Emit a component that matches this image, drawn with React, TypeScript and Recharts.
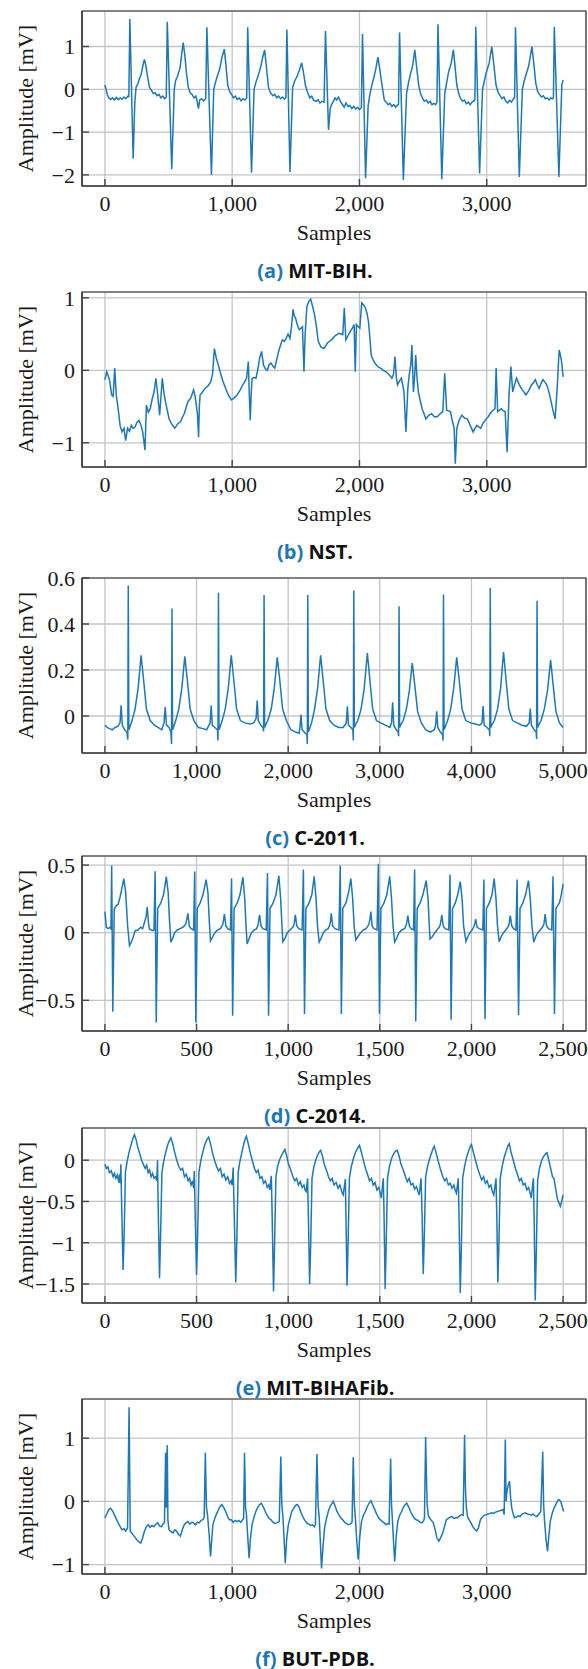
import { LineChart, Line, XAxis, YAxis, CartesianGrid, ReferenceArea } from 'recharts';

type Pt = [number, number];

// (a) MIT-BIH: [sample, mV]
const mitBih: Pt[] = [
  [0, 0.1], [8, 0.02], [18, -0.12], [30, -0.2], [45, -0.24], [60, -0.2], [75, -0.25], [90, -0.19], [105, -0.24], [120, -0.2], [135, -0.23], [150, -0.18], [165, -0.22], [180, -0.16], [188, -0.17],
  [196, 1.64], [222, -1.62], [235, -0.3], [245, 0.05], [258, 0.12], [268, 0.22], [285, 0.35], [298, 0.55], [310, 0.7], [322, 0.55], [335, 0.3], [350, 0.05], [365, -0.02], [380, -0.1], [395, -0.08], [410, -0.15], [425, -0.12], [440, -0.2], [455, -0.16], [470, -0.22], [482, -0.18],
  [490, 1.58], [525, -1.87], [545, 0.0], [555, 0.2], [570, 0.3], [590, 0.5], [605, 0.85], [615, 1.09], [628, 0.8], [640, 0.4], [655, 0.05], [670, -0.08], [685, -0.12], [700, -0.2], [715, -0.16], [725, -0.28], [735, -0.45], [745, -0.25], [760, -0.22], [775, -0.27], [792, -0.22],
  [801, 1.45], [837, -2.0], [855, 0.0], [868, 0.15], [882, 0.3], [900, 0.45], [920, 0.75], [938, 0.94], [950, 0.6], [965, 0.1], [980, -0.05], [995, -0.12], [1010, -0.2], [1025, -0.16], [1040, -0.24], [1055, -0.2], [1070, -0.27], [1085, -0.22], [1100, -0.25], [1114, -0.2],
  [1122, 1.45], [1152, -1.95], [1172, 0.0], [1185, 0.15], [1202, 0.3], [1222, 0.5], [1240, 0.75], [1255, 0.92], [1268, 0.55], [1285, 0.05], [1300, -0.08], [1320, -0.15], [1335, -0.12], [1350, -0.2], [1365, -0.16], [1380, -0.22], [1395, -0.18], [1410, -0.23], [1422, -0.19],
  [1430, 1.4], [1454, -1.93], [1475, 0.05], [1492, 0.2], [1510, 0.3], [1528, 0.45], [1546, 0.62], [1560, 0.4], [1575, 0.1], [1590, -0.05], [1610, -0.2], [1625, -0.16], [1640, -0.26], [1660, -0.28], [1675, -0.24], [1690, -0.32], [1705, -0.28], [1722, -0.3],
  [1733, 1.36], [1757, -0.95], [1770, -0.45], [1782, -0.35], [1795, -0.28], [1808, -0.2], [1820, -0.25], [1835, -0.18], [1850, -0.28], [1865, -0.35], [1880, -0.42], [1895, -0.32], [1910, -0.4], [1925, -0.38], [1940, -0.45], [1955, -0.4], [1970, -0.46], [1985, -0.42], [2000, -0.47], [2015, -0.43],
  [2024, 1.29], [2048, -2.08], [2068, -0.4], [2080, -0.15], [2090, 0.0], [2102, 0.15], [2115, 0.3], [2130, 0.5], [2145, 0.75], [2158, 0.5], [2172, 0.2], [2185, -0.05], [2195, -0.25], [2210, -0.3], [2225, -0.36], [2240, -0.33], [2255, -0.4], [2270, -0.36], [2285, -0.42], [2298, -0.37], [2307, -0.35],
  [2315, 1.33], [2345, -2.12], [2370, -0.1], [2385, 0.15], [2400, 0.35], [2418, 0.55], [2435, 0.92], [2450, 0.5], [2465, 0.1], [2480, -0.1], [2495, -0.2], [2510, -0.28], [2525, -0.25], [2540, -0.32], [2555, -0.28], [2570, -0.36], [2585, -0.33], [2598, -0.36], [2609, -0.3],
  [2617, 1.52], [2647, -2.1], [2670, -0.1], [2685, 0.15], [2700, 0.4], [2720, 0.6], [2738, 0.92], [2752, 0.5], [2765, 0.1], [2780, -0.1], [2795, -0.22], [2810, -0.28], [2825, -0.25], [2840, -0.34], [2855, -0.3], [2870, -0.36], [2885, -0.3], [2898, -0.27], [2907, -0.25],
  [2914, 1.46], [2944, -1.97], [2967, 0.0], [2982, 0.2], [2997, 0.4], [3018, 0.6], [3040, 1.0], [3055, 0.6], [3073, 0.1], [3090, -0.08], [3105, -0.15], [3120, -0.22], [3135, -0.18], [3150, -0.28], [3165, -0.32], [3180, -0.26], [3195, -0.3], [3210, -0.22], [3219, -0.2],
  [3226, 1.45], [3256, -2.05], [3280, 0.0], [3295, 0.2], [3310, 0.35], [3330, 0.55], [3355, 1.0], [3370, 0.6], [3385, 0.15], [3400, -0.05], [3415, -0.12], [3430, -0.18], [3445, -0.15], [3460, -0.22], [3475, -0.2], [3490, -0.25], [3505, -0.2], [3516, -0.22], [3524, -0.2],
  [3531, 1.46], [3567, -2.05], [3590, 0.1], [3600, 0.22],
];

// (b) NST
const nst: Pt[] = [
  [0, -0.13], [15, -0.02], [36, -0.13], [53, -0.34], [65, -0.36], [77, 0.03], [89, -0.34], [104, -0.53], [119, -0.76], [134, -0.85], [150, -0.8], [163, -0.97], [178, -0.8], [193, -0.84], [208, -0.76], [222, -0.8], [237, -0.78], [252, -0.72], [267, -0.69], [282, -0.75], [297, -0.85], [315, -1.1], [326, -0.48], [341, -0.58], [356, -0.53], [371, -0.4], [386, -0.3], [401, -0.11], [415, -0.34], [430, -0.62], [441, -0.35], [451, -0.11], [463, -0.3], [475, -0.43], [490, -0.55], [504, -0.67], [527, -0.75], [549, -0.8], [571, -0.74], [593, -0.71], [623, -0.6], [653, -0.43], [675, -0.38], [697, -0.27], [708, -0.35], [718, -0.48], [727, -0.6], [736, -0.92], [742, -0.5], [748, -0.34], [767, -0.3], [786, -0.25], [808, -0.22], [831, -0.16], [846, -0.05], [860, 0.3], [875, 0.17], [890, 0.08], [905, -0.02], [927, -0.15], [949, -0.25], [972, -0.35], [994, -0.41], [1016, -0.38], [1038, -0.34], [1060, -0.28], [1083, -0.2], [1098, -0.16], [1113, -0.11], [1127, 0.12], [1134, -0.3], [1142, -0.69], [1150, -0.3], [1157, -0.11], [1172, -0.1], [1187, -0.11], [1200, 0.0], [1216, 0.17], [1231, 0.26], [1246, 0.07], [1261, 0.02], [1276, 0.0], [1290, 0.08], [1305, 0.1], [1320, 0.06], [1335, 0.03], [1350, 0.15], [1365, 0.26], [1380, 0.35], [1394, 0.42], [1409, 0.4], [1424, 0.44], [1439, 0.5], [1454, 0.44], [1466, 0.6], [1478, 0.84], [1488, 0.75], [1498, 0.72], [1513, 0.62], [1528, 0.56], [1540, 0.58], [1552, 0.6], [1564, -0.02], [1573, 0.49], [1587, 0.88], [1602, 0.95], [1617, 0.98], [1632, 0.88], [1647, 0.77], [1662, 0.6], [1676, 0.4], [1698, 0.32], [1721, 0.3], [1750, 0.38], [1780, 0.42], [1810, 0.48], [1840, 0.51], [1855, 0.5], [1869, 0.49], [1881, 0.86], [1893, 0.42], [1911, 0.48], [1929, 0.54], [1944, 0.58], [1958, 0.63], [1967, -0.02], [1976, 0.63], [1990, 0.6], [2003, 0.58], [2018, 0.93], [2033, 0.9], [2047, 0.86], [2060, 0.78], [2071, 0.67], [2082, 0.45], [2092, 0.21], [2106, 0.15], [2121, 0.1], [2144, 0.05], [2166, 0.03], [2188, 0.0], [2210, -0.02], [2233, -0.06], [2255, -0.11], [2268, -0.05], [2279, 0.19], [2290, -0.1], [2299, -0.2], [2314, -0.15], [2329, -0.11], [2340, -0.2], [2350, -0.3], [2365, -0.85], [2380, -0.25], [2392, -0.05], [2403, 0.07], [2412, 0.35], [2424, -0.3], [2433, -0.1], [2442, 0.21], [2452, -0.1], [2463, -0.3], [2478, -0.42], [2492, -0.53], [2507, -0.6], [2522, -0.67], [2544, -0.62], [2566, -0.6], [2589, -0.64], [2611, -0.64], [2633, -0.6], [2655, -0.57], [2670, -0.04], [2685, -0.55], [2700, -0.56], [2715, -0.57], [2730, -0.7], [2744, -0.8], [2753, -1.29], [2765, -0.8], [2785, -0.68], [2804, -0.62], [2826, -0.66], [2848, -0.67], [2870, -0.76], [2893, -0.85], [2908, -0.8], [2922, -0.76], [2937, -0.78], [2952, -0.8], [2975, -0.72], [2997, -0.67], [3012, -0.64], [3026, -0.6], [3045, -0.56], [3065, -0.53], [3074, 0.03], [3086, -0.57], [3100, -0.55], [3115, -0.53], [3130, -0.56], [3145, -0.57], [3160, -1.13], [3175, -0.34], [3190, 0.05], [3204, -0.3], [3219, -0.2], [3234, -0.11], [3256, -0.2], [3279, -0.27], [3293, -0.3], [3308, -0.34], [3330, -0.28], [3353, -0.2], [3368, -0.17], [3382, -0.13], [3397, -0.2], [3412, -0.25], [3427, -0.18], [3442, -0.13], [3456, -0.16], [3471, -0.2], [3486, -0.28], [3501, -0.39], [3520, -0.55], [3537, -0.67], [3546, -0.45], [3555, -0.2], [3569, 0.28], [3580, 0.2], [3590, 0.1], [3600, -0.09],
];

// (c) C-2011
const c2011: Pt[] = [
  [0, -0.04], [25, -0.05], [50, -0.055], [80, -0.06], [110, -0.05], [140, -0.045], [165, -0.03], [177, 0.046], [190, -0.04], [215, -0.06], [240, -0.07], [250, -0.103], [255, 0.567], [261, -0.06], [271, -0.05], [296, -0.02], [329, 0.03], [362, 0.12], [395, 0.264], [424, 0.15], [453, 0.03], [494, -0.02], [540, -0.04], [580, -0.05], [620, -0.06], [645, -0.03],
  [658, 0.039], [672, -0.04], [700, -0.05], [720, -0.07], [727, -0.122], [732, 0.467], [738, -0.06], [748, -0.05], [773, -0.02], [806, 0.03], [839, 0.12], [872, 0.259], [901, 0.15], [930, 0.03], [971, -0.02], [1020, -0.05], [1070, -0.055], [1110, -0.06], [1148, -0.03],
  [1160, 0.045], [1172, -0.04], [1200, -0.05], [1228, -0.06], [1234, -0.107], [1239, 0.536], [1245, -0.06], [1255, -0.05], [1280, -0.02], [1313, 0.03], [1346, 0.12], [1379, 0.264], [1408, 0.15], [1437, 0.03], [1478, -0.02], [1530, -0.03], [1580, -0.035], [1625, -0.03], [1650, -0.01],
  [1662, 0.067], [1674, -0.02], [1700, -0.04], [1725, -0.05], [1732, -0.067], [1737, 0.526], [1743, -0.05], [1753, -0.04], [1778, -0.02], [1815, 0.03], [1848, 0.12], [1881, 0.255], [1910, 0.15], [1939, 0.03], [1980, -0.02], [2030, -0.06], [2080, -0.07], [2120, -0.075], [2128, -0.05],
  [2140, 0.006], [2152, -0.06], [2185, -0.075], [2205, -0.08], [2209, -0.122], [2214, 0.526], [2220, -0.07], [2230, -0.06], [2255, -0.03], [2288, 0.03], [2321, 0.12], [2354, 0.264], [2383, 0.15], [2412, 0.03], [2453, -0.02], [2500, -0.04], [2550, -0.05], [2600, -0.05], [2634, -0.03],
  [2646, 0.042], [2658, -0.04], [2685, -0.05], [2706, -0.06], [2711, -0.107], [2716, 0.546], [2722, -0.05], [2732, -0.04], [2760, -0.02], [2795, 0.03], [2830, 0.12], [2864, 0.274], [2893, 0.15], [2922, 0.03], [2963, -0.02], [3010, -0.03], [3060, -0.04], [3110, -0.05], [3128, -0.03],
  [3140, 0.06], [3152, -0.04], [3180, -0.06], [3200, -0.07], [3205, -0.088], [3210, 0.477], [3216, -0.05], [3226, -0.04], [3255, -0.02], [3290, 0.03], [3322, 0.11], [3354, 0.23], [3383, 0.13], [3412, 0.02], [3453, -0.03], [3500, -0.06], [3550, -0.07], [3595, -0.06], [3609, -0.04],
  [3621, 0.02], [3633, -0.05], [3660, -0.07], [3685, -0.08], [3690, -0.107], [3695, 0.528], [3701, -0.06], [3711, -0.05], [3740, -0.02], [3773, 0.03], [3806, 0.12], [3839, 0.255], [3868, 0.15], [3897, 0.03], [3938, -0.02], [3990, -0.03], [4040, -0.035], [4090, -0.04], [4115, -0.03],
  [4127, 0.043], [4139, -0.04], [4170, -0.05], [4195, -0.06], [4200, -0.088], [4205, 0.557], [4211, -0.05], [4221, -0.04], [4250, -0.02], [4285, 0.03], [4318, 0.12], [4350, 0.278], [4379, 0.15], [4408, 0.03], [4449, -0.02], [4500, -0.03], [4550, -0.04], [4600, -0.045], [4630, -0.03],
  [4642, 0.032], [4654, -0.04], [4685, -0.06], [4706, -0.07], [4711, -0.1], [4716, 0.501], [4722, -0.05], [4732, -0.04], [4760, -0.02], [4795, 0.03], [4830, 0.11], [4864, 0.243], [4893, 0.13], [4922, 0.02], [4960, -0.03], [5000, -0.05],
];

// (d) C-2014
const c2014: Pt[] = [
  [0, 0.156], [8, 0.04], [18, 0.03], [28, 0.04], [33, 0.03],
  [37, 0.496], [43, -0.585], [51, 0.175], [62, 0.2], [72, 0.21], [82, 0.26], [93, 0.33], [103, 0.4], [113, 0.3], [124, 0.05], [134, -0.096], [144, -0.07], [155, -0.03], [165, 0.015], [180, 0.02], [195, 0.04], [206, 0.03], [216, 0.077], [225, 0.12], [231, 0.19], [237, 0.08], [243, 0.027], [253, 0.02], [263, 0.015], [268, 0.02],
  [274, 0.454], [280, -0.664], [288, 0.18], [297, 0.2], [305, 0.22], [320, 0.28], [335, 0.415], [345, 0.3], [352, 0.1], [360, -0.07], [370, -0.04], [380, 0.0], [395, 0.02], [410, 0.03], [425, 0.04], [440, 0.06], [447, 0.1], [453, 0.143], [460, 0.05], [470, 0.03], [484, 0.02],
  [490, 0.452], [496, -0.664], [504, 0.18], [512, 0.2], [520, 0.22], [535, 0.28], [552, 0.393], [562, 0.3], [569, 0.1], [576, -0.06], [588, -0.03], [600, 0.0], [615, 0.02], [630, 0.03], [643, 0.06], [648, 0.1], [652, 0.138], [660, 0.05], [670, 0.03], [685, 0.02],
  [691, 0.402], [697, -0.615], [705, 0.18], [714, 0.2], [722, 0.22], [737, 0.28], [753, 0.41], [763, 0.25], [770, 0.05], [776, -0.084], [788, -0.04], [800, 0.0], [815, 0.02], [828, 0.03], [836, 0.06], [840, 0.1], [844, 0.131], [852, 0.05], [862, 0.03], [880, 0.02],
  [887, 0.442], [893, -0.615], [901, 0.18], [910, 0.2], [918, 0.22], [933, 0.28], [949, 0.42], [959, 0.25], [966, 0.05], [971, -0.067], [983, -0.04], [995, 0.0], [1010, 0.02], [1025, 0.04], [1032, 0.06], [1036, 0.1], [1039, 0.131], [1047, 0.05], [1058, 0.03], [1076, 0.02],
  [1083, 0.467], [1089, -0.602], [1097, 0.18], [1106, 0.2], [1114, 0.22], [1129, 0.28], [1142, 0.417], [1152, 0.25], [1160, 0.05], [1169, -0.07], [1180, -0.04], [1192, 0.0], [1205, 0.02], [1218, 0.03], [1228, 0.06], [1232, 0.1], [1235, 0.143], [1243, 0.05], [1255, 0.03], [1277, 0.02],
  [1284, 0.496], [1290, -0.602], [1298, 0.18], [1307, 0.2], [1315, 0.22], [1330, 0.3], [1342, 0.4], [1352, 0.25], [1360, 0.05], [1369, -0.054], [1380, -0.03], [1395, 0.0], [1410, 0.02], [1425, 0.03], [1440, 0.06], [1446, 0.1], [1451, 0.156], [1458, 0.05], [1468, 0.03], [1485, 0.02],
  [1492, 0.509], [1498, -0.602], [1506, 0.18], [1515, 0.2], [1523, 0.22], [1538, 0.28], [1554, 0.417], [1564, 0.25], [1572, 0.05], [1581, -0.07], [1592, -0.04], [1605, 0.0], [1620, 0.02], [1635, 0.03], [1645, 0.06], [1650, 0.1], [1653, 0.126], [1661, 0.05], [1671, 0.03], [1684, 0.02],
  [1690, 0.467], [1696, -0.657], [1704, 0.18], [1712, 0.2], [1720, 0.22], [1735, 0.28], [1753, 0.385], [1763, 0.25], [1770, 0.05], [1774, -0.047], [1786, -0.03], [1800, 0.0], [1812, 0.02], [1824, 0.04], [1830, 0.06], [1835, 0.1], [1838, 0.131], [1846, 0.05], [1856, 0.03], [1876, 0.02],
  [1883, 0.43], [1889, -0.644], [1897, 0.18], [1905, 0.2], [1912, 0.22], [1925, 0.28], [1939, 0.378], [1949, 0.25], [1957, 0.05], [1970, -0.064], [1980, -0.03], [1992, 0.0], [2003, 0.02], [2012, 0.04], [2017, 0.06], [2020, 0.08], [2023, 0.1], [2031, 0.04], [2043, 0.03], [2062, 0.02],
  [2068, 0.393], [2074, -0.64], [2082, 0.18], [2090, 0.2], [2098, 0.22], [2112, 0.28], [2124, 0.4], [2134, 0.25], [2142, 0.05], [2151, -0.067], [2162, -0.03], [2175, 0.0], [2187, 0.02], [2198, 0.04], [2205, 0.06], [2209, 0.1], [2212, 0.126], [2220, 0.05], [2230, 0.03], [2243, 0.02],
  [2249, 0.393], [2257, -0.61], [2265, 0.18], [2273, 0.2], [2280, 0.22], [2295, 0.28], [2311, 0.385], [2321, 0.25], [2330, 0.05], [2340, -0.07], [2350, -0.03], [2362, 0.0], [2375, 0.02], [2387, 0.04], [2395, 0.06], [2399, 0.1], [2402, 0.138], [2410, 0.05], [2420, 0.03], [2438, 0.02],
  [2445, 0.417], [2453, -0.602], [2461, 0.18], [2470, 0.2], [2480, 0.22], [2490, 0.28], [2500, 0.36],
];

// (e) MIT-BIHAFib
const mitBihAfib: Pt[] = [
  [0, -0.05], [8, -0.1], [16, -0.08], [25, -0.15], [35, -0.13], [45, -0.2], [52, -0.16], [60, -0.22], [68, -0.18], [76, -0.27], [80, -0.17], [84, -0.28], [87, -0.05], [91, -0.5], [99, -1.33], [105, -0.9], [112, -0.15], [120, -0.03], [130, 0.08], [142, 0.18], [152, 0.26], [161, 0.31], [170, 0.25], [180, 0.15], [190, 0.08], [200, 0.0], [210, -0.05], [220, -0.1], [228, -0.06], [236, -0.15], [244, -0.12], [252, -0.2], [260, -0.16], [268, -0.22], [276, -0.2], [283, -0.25],
  [287, 0.0], [291, -0.6], [298, -1.43], [304, -0.9], [311, -0.15], [320, -0.02], [330, 0.08], [342, 0.18], [352, 0.24], [360, 0.27], [370, 0.2], [380, 0.1], [392, 0.0], [404, -0.08], [414, -0.12], [424, -0.1], [434, -0.2], [444, -0.17], [454, -0.25], [462, -0.22], [470, -0.3], [478, -0.25], [484, -0.34],
  [488, -0.13], [492, -0.6], [500, -1.39], [506, -0.9], [513, -0.15], [522, -0.02], [532, 0.08], [544, 0.18], [556, 0.25], [566, 0.28], [576, 0.2], [586, 0.1], [598, 0.0], [610, -0.08], [620, -0.13], [630, -0.1], [640, -0.2], [650, -0.17], [660, -0.24], [670, -0.2], [680, -0.28], [688, -0.25], [694, -0.3],
  [700, -0.09], [705, -0.6], [714, -1.48], [720, -0.95], [727, -0.15], [736, -0.02], [746, 0.08], [758, 0.2], [766, 0.26], [772, 0.29], [782, 0.2], [792, 0.1], [804, 0.0], [816, -0.1], [826, -0.15], [836, -0.12], [846, -0.22], [856, -0.2], [866, -0.28], [876, -0.25], [886, -0.33], [894, -0.3], [900, -0.36],
  [908, -0.19], [912, -0.6], [920, -1.59], [926, -1.0], [933, -0.2], [942, -0.08], [952, 0.0], [964, 0.06], [974, 0.1], [982, 0.13], [992, 0.05], [1002, -0.05], [1014, -0.12], [1026, -0.2], [1036, -0.25], [1046, -0.22], [1056, -0.3], [1066, -0.26], [1076, -0.33], [1086, -0.3], [1092, -0.36], [1098, -0.38],
  [1106, -0.22], [1110, -0.65], [1117, -1.5], [1123, -1.0], [1130, -0.22], [1140, -0.08], [1150, 0.0], [1160, 0.06], [1170, 0.1], [1177, 0.12], [1187, 0.05], [1197, -0.05], [1208, -0.12], [1220, -0.2], [1230, -0.25], [1240, -0.22], [1250, -0.3], [1262, -0.27], [1272, -0.34], [1282, -0.3], [1292, -0.38], [1300, -0.42],
  [1312, -0.23], [1315, -0.65], [1321, -1.52], [1327, -1.0], [1334, -0.22], [1344, -0.08], [1356, 0.02], [1368, 0.1], [1380, 0.15], [1389, 0.18], [1399, 0.1], [1410, 0.0], [1422, -0.1], [1434, -0.18], [1444, -0.25], [1454, -0.22], [1464, -0.3], [1474, -0.27], [1484, -0.36], [1494, -0.33], [1502, -0.4], [1508, -0.46],
  [1519, -0.22], [1523, -0.65], [1529, -1.56], [1535, -1.0], [1542, -0.22], [1552, -0.08], [1564, 0.02], [1576, 0.08], [1586, 0.11], [1595, 0.12], [1605, 0.05], [1616, -0.05], [1628, -0.12], [1640, -0.2], [1650, -0.26], [1660, -0.22], [1670, -0.3], [1680, -0.28], [1690, -0.35], [1700, -0.32], [1708, -0.38], [1715, -0.42],
  [1725, -0.22], [1730, -0.6], [1737, -1.38], [1743, -0.9], [1750, -0.2], [1760, -0.08], [1772, 0.02], [1784, 0.1], [1792, 0.15], [1797, 0.17], [1808, 0.08], [1820, -0.02], [1832, -0.12], [1844, -0.2], [1854, -0.25], [1864, -0.22], [1874, -0.3], [1884, -0.28], [1894, -0.34], [1904, -0.3], [1912, -0.37], [1918, -0.4],
  [1928, -0.22], [1932, -0.65], [1939, -1.61], [1945, -1.05], [1952, -0.22], [1962, -0.08], [1974, 0.04], [1986, 0.12], [1994, 0.17], [2000, 0.19], [2010, 0.1], [2022, 0.0], [2034, -0.1], [2046, -0.18], [2056, -0.24], [2066, -0.2], [2076, -0.28], [2086, -0.25], [2096, -0.33], [2106, -0.3], [2114, -0.38], [2122, -0.42],
  [2134, -0.22], [2138, -0.65], [2144, -1.48], [2150, -1.0], [2157, -0.22], [2167, -0.08], [2179, 0.04], [2191, 0.12], [2200, 0.18], [2206, 0.2], [2216, 0.1], [2228, 0.0], [2240, -0.1], [2252, -0.18], [2262, -0.25], [2272, -0.22], [2282, -0.3], [2292, -0.28], [2302, -0.36], [2312, -0.33], [2320, -0.4], [2326, -0.46],
  [2338, -0.22], [2342, -0.7], [2348, -1.7], [2354, -1.1], [2361, -0.25], [2371, -0.1], [2383, 0.0], [2395, 0.05], [2405, 0.08], [2412, 0.09], [2422, 0.0], [2432, -0.1], [2442, -0.2], [2450, -0.22], [2460, -0.35], [2470, -0.48], [2478, -0.52], [2485, -0.56], [2492, -0.5], [2500, -0.42],
];

// (f) BUT-PDB
const butPdb: Pt[] = [
  [0, -0.26], [15, -0.2], [30, -0.13], [44, -0.11], [60, -0.15], [74, -0.21], [90, -0.28], [104, -0.34], [120, -0.4], [133, -0.45], [150, -0.43], [163, -0.47], [178, -0.42], [190, 1.49], [199, -0.47], [210, -0.5], [222, -0.53], [237, -0.57], [252, -0.61], [267, -0.64], [282, -0.66], [296, -0.58], [311, -0.47], [326, -0.4], [341, -0.37], [355, -0.41], [370, -0.38], [385, -0.4], [400, -0.36], [415, -0.34], [430, -0.39], [445, -0.4], [458, -0.35], [468, -0.34],
  [477, 0.77], [482, -0.1], [486, 0.6], [490, 0.89], [495, -0.3], [504, -0.45], [520, -0.48], [534, -0.5], [549, -0.45], [563, -0.47], [578, -0.52], [593, -0.55], [608, -0.45], [623, -0.37], [637, -0.34], [652, -0.32], [667, -0.36], [682, -0.33], [697, -0.34], [712, -0.37], [727, -0.33], [741, -0.34], [756, -0.3], [771, -0.29], [780, -0.25],
  [789, 0.77], [798, -0.1], [806, -0.21], [818, -0.5], [830, -0.87], [840, -0.6], [848, -0.37], [862, -0.28], [875, -0.21], [890, -0.14], [905, -0.08], [919, -0.05], [934, -0.1], [949, -0.16], [964, -0.24], [978, -0.29], [993, -0.29], [1008, -0.33], [1023, -0.3], [1038, -0.32], [1053, -0.3], [1068, -0.33], [1082, -0.29], [1090, -0.27],
  [1097, 0.77], [1105, -0.1], [1112, -0.21], [1122, -0.55], [1133, -0.9], [1143, -0.6], [1156, -0.37], [1171, -0.25], [1186, -0.16], [1200, -0.1], [1215, -0.05], [1230, -0.03], [1245, -0.09], [1260, -0.16], [1275, -0.22], [1290, -0.27], [1305, -0.29], [1320, -0.33], [1335, -0.35], [1349, -0.34], [1362, -0.33], [1370, -0.32],
  [1382, 0.71], [1390, -0.05], [1399, -0.25], [1408, -0.6], [1417, -0.98], [1428, -0.6], [1441, -0.37], [1455, -0.26], [1468, -0.16], [1485, -0.1], [1500, -0.06], [1512, -0.05], [1527, -0.1], [1542, -0.18], [1556, -0.25], [1571, -0.3], [1586, -0.34], [1601, -0.36], [1616, -0.38], [1631, -0.37], [1646, -0.4], [1654, -0.37],
  [1666, 0.75], [1675, -0.05], [1684, -0.26], [1693, -0.65], [1702, -1.06], [1714, -0.7], [1726, -0.42], [1740, -0.28], [1755, -0.16], [1770, -0.08], [1782, -0.04], [1794, 0.0], [1808, -0.07], [1823, -0.16], [1838, -0.21], [1853, -0.26], [1868, -0.29], [1883, -0.33], [1898, -0.35], [1912, -0.37], [1927, -0.36], [1942, -0.33],
  [1951, 0.7], [1960, -0.05], [1969, -0.3], [1980, -0.65], [1990, -0.92], [2003, -0.55], [2016, -0.32], [2031, -0.22], [2046, -0.16], [2060, -0.09], [2075, -0.03], [2090, 0.01], [2105, -0.06], [2120, -0.13], [2135, -0.2], [2150, -0.26], [2164, -0.29], [2180, -0.32], [2195, -0.34], [2209, -0.37], [2222, -0.35], [2233, -0.36],
  [2245, 0.68], [2252, -0.05], [2259, -0.3], [2268, -0.65], [2277, -0.95], [2289, -0.55], [2301, -0.32], [2316, -0.22], [2331, -0.16], [2346, -0.09], [2360, -0.05], [2372, -0.03], [2387, -0.09], [2402, -0.16], [2417, -0.22], [2432, -0.27], [2446, -0.29], [2461, -0.3], [2476, -0.33], [2491, -0.34], [2505, -0.3], [2511, -0.26],
  [2520, 1.02], [2526, 0.4], [2532, -0.05], [2541, -0.22], [2550, -0.26], [2565, -0.3], [2580, -0.34], [2595, -0.45], [2609, -0.58], [2624, -0.63], [2639, -0.57], [2654, -0.5], [2668, -0.4], [2683, -0.29], [2698, -0.27], [2713, -0.25], [2728, -0.24], [2743, -0.27], [2757, -0.26], [2772, -0.26], [2787, -0.23], [2802, -0.21], [2815, -0.22],
  [2826, 1.05], [2833, 0.2], [2840, -0.1], [2850, -0.25], [2861, -0.29], [2876, -0.34], [2891, -0.4], [2906, -0.44], [2921, -0.47], [2935, -0.42], [2950, -0.29], [2965, -0.25], [2980, -0.22], [2995, -0.21], [3010, -0.2], [3025, -0.19], [3039, -0.18], [3054, -0.19], [3069, -0.17], [3084, -0.16], [3099, -0.15], [3114, -0.14], [3128, -0.13], [3137, -0.21],
  [3146, 0.98], [3152, 0.0], [3158, 0.15], [3168, 0.25], [3179, 0.32], [3188, 0.05], [3197, -0.11], [3208, -0.2], [3218, -0.26], [3233, -0.25], [3248, -0.23], [3262, -0.24], [3277, -0.2], [3292, -0.19], [3306, -0.18], [3321, -0.2], [3336, -0.21], [3350, -0.22], [3365, -0.2], [3380, -0.23], [3395, -0.24], [3410, -0.2], [3425, -0.16],
  [3440, 0.79], [3447, -0.05], [3454, -0.3], [3466, -0.6], [3478, -0.79], [3488, -0.55], [3499, -0.32], [3513, -0.2], [3528, -0.11], [3545, -0.04], [3564, 0.03], [3573, 0.02], [3581, 0.0], [3593, -0.08], [3605, -0.16],
];

const ticks3600 = [0, 1000, 2000, 3000];
const ticks5000 = [0, 1000, 2000, 3000, 4000, 5000];
const ticks2500 = [0, 500, 1000, 1500, 2000, 2500];

const yTicksA = [-2, -1, 0, 1];
const yTicksB = [-1, 0, 1];
const yTicksC = [0, 0.2, 0.4, 0.6];
const yTicksD = [-0.5, 0, 0.5];
const yTicksE = [-1.5, -1, -0.5, 0];
const yTicksF = [-1, 0, 1];

const BLUE = '#1f77b4';
const SERIF = "'Liberation Serif', 'Times New Roman', serif";
const SANS = "'Open Sans', 'Noto Sans', sans-serif";
const W = 588;
const MARGIN_TOP = 20;
const PLOT_H = 175;
const CHART_H = 255;

const panels = [
  { tag: '(a)', title: 'MIT-BIH.', points: mitBih, xDomain: [-180, 3780], xTicks: ticks3600, yDomain: [-2.26, 1.83], yTicks: yTicksA, top: 11 },
  { tag: '(b)', title: 'NST.', points: nst, xDomain: [-180, 3780], xTicks: ticks3600, yDomain: [-1.334, 1.08], yTicks: yTicksB, top: 292 },
  { tag: '(c)', title: 'C-2011.', points: c2011, xDomain: [-250, 5250], xTicks: ticks5000, yDomain: [-0.161, 0.6], yTicks: yTicksC, top: 578 },
  { tag: '(d)', title: 'C-2014.', points: c2014, xDomain: [-125, 2625], xTicks: ticks2500, yDomain: [-0.727, 0.567], yTicks: yTicksD, top: 856 },
  { tag: '(e)', title: 'MIT-BIHAFib.', points: mitBihAfib, xDomain: [-125, 2625], xTicks: ticks2500, yDomain: [-1.73, 0.39], yTicks: yTicksE, top: 1128 },
  { tag: '(f)', title: 'BUT-PDB.', points: butPdb, xDomain: [-180, 3780], xTicks: ticks3600, yDomain: [-1.149, 1.62], yTicks: yTicksF, top: 1399 },
];

function fmt(v: number) {
  const a = Math.abs(v);
  const s = a >= 1000 ? a.toLocaleString('en-US') : String(a);
  return v < 0 ? '\u2212' + s : s;
}

const tickStyle = { fontFamily: SERIF, fontSize: 22, fill: '#1a1a1a' };

function EcgPanel({ p }: { p: any }) {
  const data = p.points.map(([x, y]: Pt) => ({ x, y }));
  const midY = MARGIN_TOP + PLOT_H / 2;
  return (
    <div style={{ position: 'absolute', left: 0, top: p.top - MARGIN_TOP, width: W, height: CHART_H + 40 }}>
      <LineChart width={W} height={CHART_H} data={data} margin={{ top: MARGIN_TOP, right: 2, bottom: 0, left: 0 }}>
        <CartesianGrid stroke="#c4c4c4" strokeWidth={1.3} />
        <XAxis
          type="number" dataKey="x" domain={p.xDomain} ticks={p.xTicks} allowDataOverflow interval={0}
          tickFormatter={fmt} height={60} tickSize={-7} tickMargin={16}
          tickLine={{ stroke: '#444', strokeWidth: 1.4 }} axisLine={{ stroke: '#333', strokeWidth: 1.2 }}
          tick={tickStyle}
          label={() => (
            <text x={334} y={MARGIN_TOP + PLOT_H + 46} textAnchor="middle" dominantBaseline="central"
              style={{ fontFamily: SERIF, fontSize: 22, fill: '#1a1a1a' }}>Samples</text>
          )}
        />
        <YAxis
          type="number" domain={p.yDomain} ticks={p.yTicks} allowDataOverflow interval={0}
          tickFormatter={fmt} width={82} tickSize={-7} tickMargin={14}
          tickLine={{ stroke: '#444', strokeWidth: 1.4 }} axisLine={{ stroke: '#333', strokeWidth: 1.2 }}
          tick={tickStyle}
          label={() => (
            <text x={25} y={midY} transform={`rotate(-90 25 ${midY})`} textAnchor="middle" dominantBaseline="central"
              style={{ fontFamily: SERIF, fontSize: 22, fill: '#1a1a1a' }}>Amplitude [mV]</text>
          )}
        />
        <Line type="linear" dataKey="y" stroke={BLUE} strokeWidth={1.5} dot={false} isAnimationActive={false} />
        <ReferenceArea x1={p.xDomain[0]} x2={p.xDomain[1]} y1={p.yDomain[0]} y2={p.yDomain[1]}
          fill="none" fillOpacity={0} stroke="#333" strokeWidth={1.2} ifOverflow="visible" />
      </LineChart>
      <div style={{
        position: 'absolute', left: 165, width: 300, top: MARGIN_TOP + PLOT_H + 85 - 14, height: 28,
        lineHeight: '28px', textAlign: 'center', fontFamily: SANS, fontWeight: 700, fontSize: 20, whiteSpace: 'nowrap',
      }}>
        <span style={{ color: BLUE }}>{p.tag}</span>{' '}<span style={{ color: '#111' }}>{p.title}</span>
      </div>
    </div>
  );
}

export default function App() {
  return (
    <div style={{ position: 'absolute', left: 0, top: 0, width: W, height: 1669, background: '#fff' }}>
      {panels.map((p) => <EcgPanel key={p.tag} p={p} />)}
    </div>
  );
}
